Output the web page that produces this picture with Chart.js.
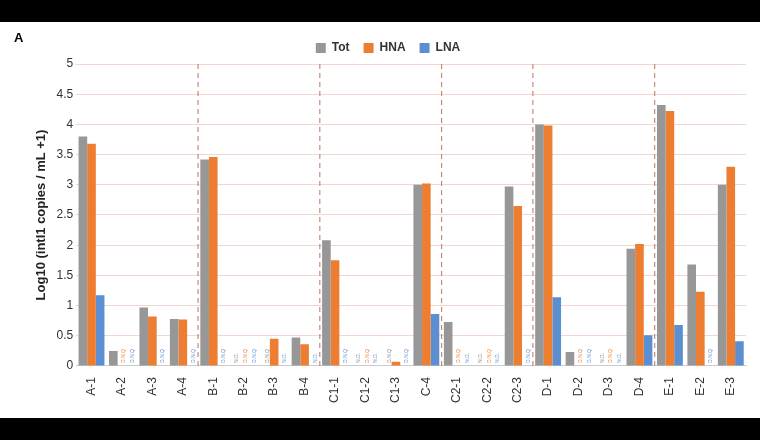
<!DOCTYPE html>
<html>
<head>
<meta charset="utf-8">
<script src="https://cdn.jsdelivr.net/npm/chart.js@4"></script>
<style>
  html, body { margin: 0; padding: 0; background: #000; }
  #wrap { position: absolute; left: 0; top: 22px; width: 760px; height: 396px; background: #fff; }
  #title { position: absolute; left: 14px; top: 8px; font: bold 13px Arial, "Liberation Sans", sans-serif; }
</style>
</head>
<body>
<div id="wrap">
  <div id="title">A</div>
  <canvas id="chart" width="760" height="396"></canvas>
</div>
<script>
// Sample sites
const sites = ['A-1','A-2','A-3','A-4','B-1','B-2','B-3','B-4','C1-1','C1-2','C1-3','C-4',
               'C2-1','C2-2','C2-3','D-1','D-2','D-3','D-4','E-1','E-2','E-3'];
// Log10 values (null = not detected / not quantifiable)
const totValues = [3.8,0.25,0.97,0.78,3.42,null,null,0.47,2.08,null,null,3.0,0.73,null,2.97,4.0,0.23,null,1.94,4.32,1.68,3.0];
const hnaValues = [3.68,null,0.82,0.77,3.46,null,0.45,0.36,1.75,null,0.07,3.02,null,null,2.65,3.98,null,null,2.02,4.22,1.23,3.3];
const lnaValues = [1.17,null,null,null,null,null,null,null,null,null,null,0.86,null,null,null,1.14,null,null,0.51,0.68,null,0.41];
// Text shown in place of a missing bar
const totNotes = ['','','','','','N.D.','D.N.Q','','','N.D.','D.N.Q','','','N.D.','','','','N.D.','','','',''];
const hnaNotes = ['','D.N.Q','','','','D.N.Q','','','','D.N.Q','','','D.N.Q','D.N.Q','','','D.N.Q','D.N.Q','','','',''];
const lnaNotes = ['','D.N.Q','D.N.Q','D.N.Q','D.N.Q','D.N.Q','N.D.','N.D.','D.N.Q','N.D.','D.N.Q','','N.D.','N.D.','D.N.Q','','D.N.Q','N.D.','','','D.N.Q',''];
// Dashed separators after these indices
const groupBreaks = [3, 7, 11, 14, 18];

const notesPlugin = {
    id: 'notes',
    afterDatasetsDraw(chart) {
        const ctx = chart.ctx;
        const y0 = chart.scales.y.getPixelForValue(0);
        const x = chart.scales.x;
        const noteSets = [totNotes, hnaNotes, lnaNotes];
        const colors = ['#888', '#ed7d31', '#5b8fd1'];
        ctx.save();
        // separators
        ctx.strokeStyle = '#c58a7a';
        ctx.setLineDash([5, 4]);
        ctx.lineWidth = 1.2;
        groupBreaks.forEach(function(i) {
            const px = (x.getPixelForValue(i) + x.getPixelForValue(i + 1)) / 2;
            ctx.beginPath();
            ctx.moveTo(px, chart.chartArea.top);
            ctx.lineTo(px, y0);
            ctx.stroke();
        });
        ctx.setLineDash([]);
        ctx.font = '5px Arial';
        noteSets.forEach(function(notes, d) {
            const meta = chart.getDatasetMeta(d);
            notes.forEach(function(t, i) {
                if (!t) return;
                ctx.save();
                ctx.translate(meta.data[i].x + 2, y0 - 3);
                ctx.rotate(-Math.PI / 2);
                ctx.fillStyle = colors[d];
                ctx.fillText(t, 0, 0);
                ctx.restore();
            });
        });
        ctx.restore();
    }
};

new Chart(document.getElementById('chart'), {
    type: 'bar',
    data: {
        labels: sites,
        datasets: [
            { label: 'Tot', data: totValues, backgroundColor: '#979797' },
            { label: 'HNA', data: hnaValues, backgroundColor: '#ed7d31' },
            { label: 'LNA', data: lnaValues, backgroundColor: '#5b8fd1' }
        ]
    },
    options: {
        responsive: false,
        animation: false,
        layout: { padding: { left: 30, right: 14, top: 6, bottom: 12 } },
        datasets: { bar: { categoryPercentage: 0.85, barPercentage: 1.0 } },
        scales: {
            y: {
                min: 0, max: 5,
                ticks: { stepSize: 0.5, color: '#333', font: { size: 12 }, callback: function(v) { return String(v); } },
                grid: { color: '#f0d8d0', drawTicks: false },
                border: { display: false },
                title: { display: true, text: 'Log10 (intI1 copies / mL +1)', color: '#222', font: { size: 13, weight: 'bold' } }
            },
            x: {
                ticks: { color: '#333', font: { size: 12 }, minRotation: 90, maxRotation: 90 },
                grid: { display: false },
                border: { color: '#ccc' }
            }
        },
        plugins: {
            legend: {
                position: 'top',
                labels: { boxWidth: 10, boxHeight: 10, color: '#333', font: { size: 12, weight: 'bold' }, padding: 14 }
            },
            tooltip: { enabled: false }
        }
    },
    plugins: [notesPlugin]
});
</script>
</body>
</html>
